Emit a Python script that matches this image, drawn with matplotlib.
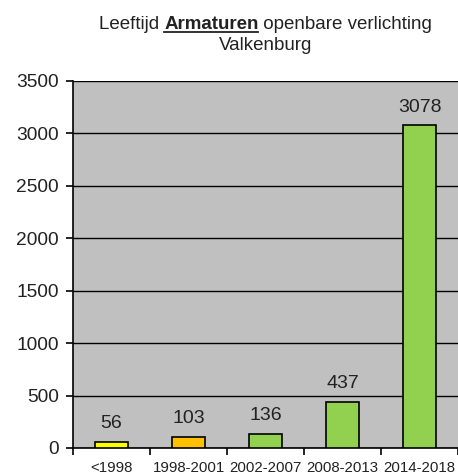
import numpy as np
import matplotlib
matplotlib.use("Agg")
import matplotlib.pyplot as plt
from matplotlib.lines import Line2D

plt.rcParams["font.family"] = ["Liberation Sans", "DejaVu Sans"]

categories = ["<1998", "1998-2001", "2002-2007", "2008-2013", "2014-2018"]
values = [56, 103, 136, 437, 3078]
bar_colors = ["#FFFF00", "#FFC000", "#92D050", "#92D050", "#92D050"]
yticks = [0, 500, 1000, 1500, 2000, 2500, 3000, 3500]

W, H = 458, 474
fig = plt.figure(figsize=(W / 100, H / 100), dpi=100)
ax = fig.add_axes([73 / W, 1 - 448 / H, (W - 73) / W, (448 - 81) / H])

x = np.arange(len(categories))
ax.set_facecolor("#C0C0C0")
ax.set_axisbelow(True)
ax.grid(axis="y", color="#000000", linewidth=1.0)
bars = ax.bar(x, values, width=0.42, color=bar_colors, edgecolor="black", linewidth=1.2, zorder=3)

for xi, v in zip(x, values):
    ax.annotate(str(v), (xi, v), xytext=(0, 7), textcoords="offset points",
                ha="center", va="bottom", fontsize=14, color="#222222")

ax.set_xlim(-0.5, len(categories) - 0.5)
ax.set_ylim(0, 3500)
ax.set_yticks(yticks)
ax.set_yticklabels([str(t) for t in yticks], fontsize=13.8, color="#222222")
ax.set_xticks(x)
ax.set_xticklabels(categories, fontsize=10.8, color="#222222")
ax.set_xticks(np.arange(len(categories) + 1) - 0.5, minor=True)
ax.tick_params(axis="x", which="major", length=0, pad=9)
ax.tick_params(axis="x", which="minor", length=5, width=1.2, direction="out")
ax.tick_params(axis="y", length=5, width=1.2, direction="out", pad=5)
for s in ["top", "right"]:
    ax.spines[s].set_visible(False)
for s in ["left", "bottom"]:
    ax.spines[s].set_linewidth(1.2)

# title with bold underlined middle word
parts = [("Leeftijd ", "normal"), ("Armaturen", "bold"), (" openbare verlichting", "normal")]
fs = 13.5
texts = [fig.text(0, 0, s, fontsize=fs, fontweight=w, color="#222222", va="baseline")
         for s, w in parts]
fig.canvas.draw()
r = fig.canvas.get_renderer()
widths = [t.get_window_extent(r).width for t in texts]
cx = (73 + W) / 2
y1 = H - 29
xp = cx - sum(widths) / 2
for t, w in zip(texts, widths):
    t.set_position((xp / W, y1 / H))
    xp += w
bx0 = cx - sum(widths) / 2 + widths[0]
fig.add_artist(Line2D([bx0 / W, (bx0 + widths[1]) / W], [(y1 - 3) / H, (y1 - 3) / H],
                      transform=fig.transFigure, color="#222222", linewidth=1.3))
fig.text(cx / W, (H - 50) / H, "Valkenburg", fontsize=fs, color="#222222", ha="center", va="baseline")

fig.savefig("out.png", dpi=100)
